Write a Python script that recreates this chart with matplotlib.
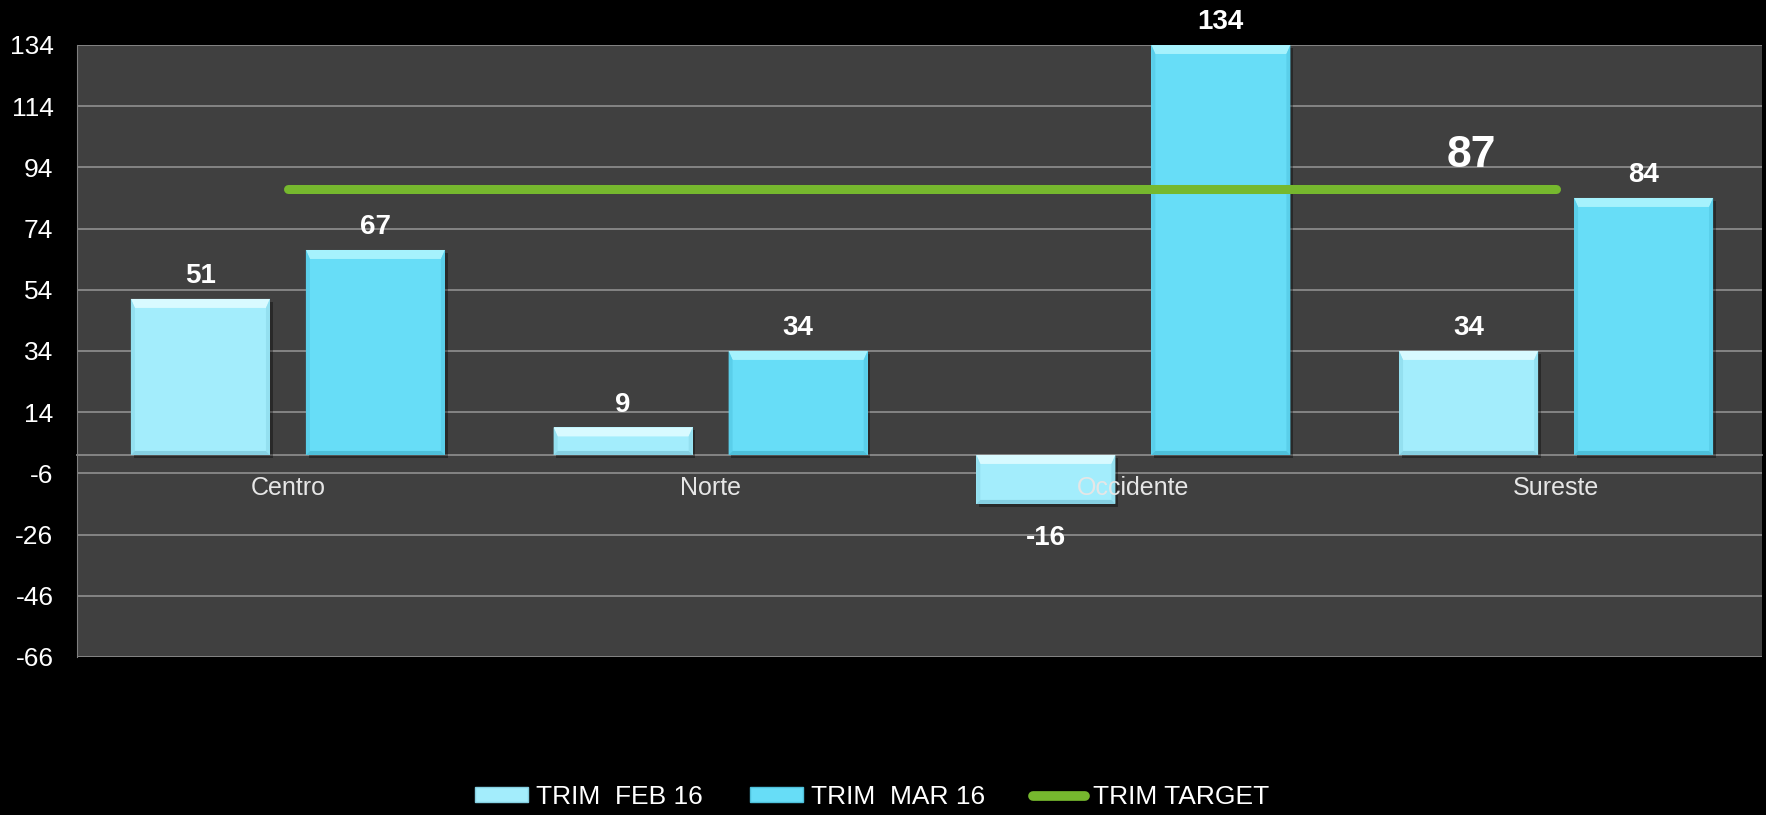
import numpy as np
import matplotlib
matplotlib.use('Agg')
import matplotlib.pyplot as plt
from matplotlib.patches import Polygon, Patch
from matplotlib.lines import Line2D
import matplotlib.patheffects as pe

plt.rcParams['font.family'] = ['Liberation Sans', 'DejaVu Sans']

# data
regions = ['Centro', 'Norte', 'Occidente', 'Sureste']
feb = [51, 9, -16, 34]
mar = [67, 34, 134, 84]
target = [87, 87, 87, 87]
series_names = ['TRIM  FEB 16', 'TRIM  MAR 16', 'TRIM TARGET']
yticks = list(range(-66, 135, 20))

light = '#A3EDFC'
dark = '#67DDF7'
green = '#76B82E'


def bevel(ax, bar, top_c, side_c, bot_c, bt=9, bs=4, bb=4):
    # fake the excel bevel with 4 trapezoids around the bar edge
    x0, w = bar.get_x(), bar.get_width()
    y0, h = bar.get_y(), bar.get_height()
    lo, hi = min(y0, y0 + h), max(y0, y0 + h)
    x1 = x0 + w
    (px0, py0), (px1, py1) = ax.transData.transform([(0, 0), (1, 1)])
    ux = 1.0 / (px1 - px0)
    uy = 1.0 / (py1 - py0)
    ds, dt, db = bs * ux, bt * uy, bb * uy
    polys = [
        ([(x0, hi), (x1, hi), (x1 - ds, hi - dt), (x0 + ds, hi - dt)], top_c),
        ([(x0, hi), (x0 + ds, hi - dt), (x0 + ds, lo + db), (x0, lo)], side_c),
        ([(x1, hi), (x1 - ds, hi - dt), (x1 - ds, lo + db), (x1, lo)], side_c),
        ([(x0, lo), (x0 + ds, lo + db), (x1 - ds, lo + db), (x1, lo)], bot_c),
    ]
    for pts, c in polys:
        ax.add_patch(Polygon(pts, closed=True, facecolor=c, lw=0, zorder=bar.get_zorder() + 0.1))


fig = plt.figure(figsize=(17.66, 8.15), dpi=100, facecolor='black')
ax = fig.add_axes([0.0436, 0.194, 0.9541, 0.7508])
ax.set_facecolor('#404040')
ax.set_xlim(-0.499, 3.487)
ax.set_ylim(-66, 134)

x = np.arange(len(regions))
w = 0.329
off = 0.207
shadow = [pe.SimplePatchShadow(offset=(2, -2), shadow_rgbFace='black', alpha=0.35), pe.Normal()]
b1 = ax.bar(x - off, feb, w, color=light, zorder=2, path_effects=shadow)
b2 = ax.bar(x + off, mar, w, color=dark, zorder=2, path_effects=shadow)

for r in b1:
    bevel(ax, r, '#D8FAFF', '#94E0F0', '#86D0E2')
for r in b2:
    bevel(ax, r, '#A6F2FD', '#5ACFEA', '#4EC0DA')

ax.plot(x, target, color=green, lw=6.5, solid_capstyle='round', zorder=4)

for bars, vals in [(b1, feb), (b2, mar)]:
    for r, v in zip(bars, vals):
        cx = r.get_x() + r.get_width() / 2
        if v >= 0:
            ax.annotate(str(v), (cx, v), xytext=(0, 7), textcoords='offset points',
                        ha='center', va='bottom', fontsize=20, fontweight='bold',
                        color='white', annotation_clip=False, zorder=6)
        else:
            ax.annotate(str(v), (cx, v), xytext=(0, -15), textcoords='offset points',
                        ha='center', va='top', fontsize=20, fontweight='bold',
                        color='white', annotation_clip=False, zorder=6)

ax.annotate(str(target[-1]), (x[-1], target[-1]), xytext=(-61, 16), textcoords='offset points',
            ha='center', va='baseline', fontsize=32, fontweight='bold', color='white', zorder=6)

# axes styling
ax.set_yticks(yticks)
ax.set_yticklabels([str(t) for t in yticks])
ax.tick_params(axis='y', colors='white', labelsize=19, length=0, pad=17)
ax.set_xticks(x)
ax.set_xticklabels(regions)
ax.tick_params(axis='x', colors='#E6E6E6', labelsize=18, length=0, pad=15)
ax.yaxis.grid(True, color='#8A8A8A', lw=1.3)
# grid under the bars, category labels over them
ax.yaxis.set_zorder(0.5)
ax.xaxis.set_zorder(5)
ax.spines['bottom'].set_position(('data', 0))
ax.spines['bottom'].set_color('#8A8A8A')
ax.spines['bottom'].set_linewidth(1.3)
ax.spines['bottom'].set_zorder(1)
ax.spines['left'].set_color('#7F7F7F')
ax.spines['top'].set_visible(False)
ax.spines['right'].set_visible(False)

handles = [
    Patch(facecolor=light, edgecolor='#86D0E2', lw=1),
    Patch(facecolor=dark, edgecolor='#4EC0DA', lw=1),
    Line2D([0], [0], color=green, lw=7, solid_capstyle='round'),
]
leg = fig.legend(handles, series_names, loc='center', bbox_to_anchor=(0.494, 0.022), ncol=3,
                 frameon=False, fontsize=19, handlelength=2.0, handleheight=0.5,
                 handletextpad=0.3, columnspacing=1.8)
for t in leg.get_texts():
    t.set_color('white')

fig.savefig('out.png', dpi=100, facecolor='black')
